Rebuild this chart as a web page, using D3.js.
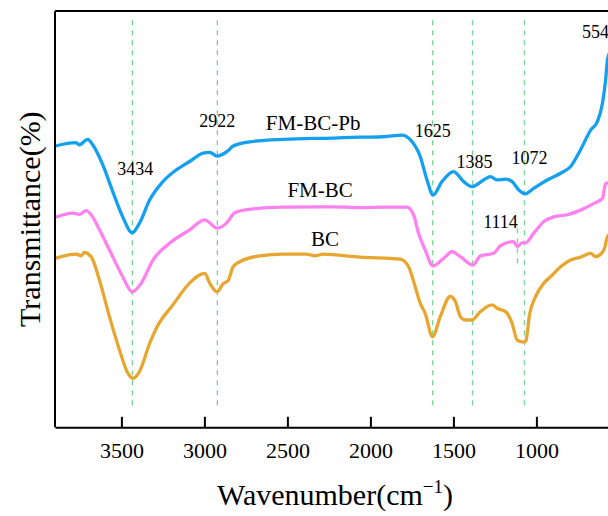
<!DOCTYPE html>
<html>
<head>
<meta charset="utf-8">
<script src="https://cdn.jsdelivr.net/npm/d3@7"></script>
<style>
  body { margin: 0; background: #fff; }
  svg { display: block; }
  svg text { font-family: "Liberation Serif", "Times New Roman", serif; }
</style>
</head>
<body>
<div class="ftir-container"></div>
<script>
// FTIR spectra, wavenumber in cm-1, transmittance in arbitrary %
const wnPb = [3898, 3773, 3753, 3703, 3673, 3612, 3552, 3492, 3435, 3391, 3330, 3250, 3169, 3089, 3008, 2968, 2924, 2857, 2827, 2726, 2525, 2223, 2062, 1921, 1810, 1760, 1700, 1659, 1623, 1569, 1499, 1438, 1388, 1318, 1277, 1237, 1186, 1146, 1106, 1066, 1016, 935, 854, 794, 734, 673, 633, 602, 583, 572, 564, 540];
const tPb = [68.0, 68.8, 68.3, 69.6, 68.3, 63.5, 57.1, 51.1, 47.3, 49.6, 55.1, 59.5, 62.3, 64.3, 66.3, 66.5, 65.6, 66.9, 68.0, 69.0, 69.6, 69.9, 70.1, 70.2, 70.6, 69.5, 65.5, 59.9, 56.3, 59.5, 61.9, 59.5, 58.3, 59.9, 60.7, 59.9, 60.1, 59.5, 57.5, 56.6, 57.9, 59.9, 61.5, 63.1, 67.1, 71.8, 73.8, 78.2, 83.8, 88.5, 89.7, 92.0];

const wnFM = [3898, 3793, 3753, 3713, 3682, 3632, 3572, 3492, 3435, 3380, 3310, 3210, 3089, 2998, 2924, 2867, 2817, 2726, 2525, 2223, 2062, 1921, 1780, 1740, 1710, 1670, 1623, 1559, 1508, 1458, 1382, 1337, 1257, 1217, 1136, 1116, 1086, 1066, 1016, 955, 895, 814, 734, 653, 602, 583, 564, 540];
const tFM = [51.0, 52.0, 51.7, 52.6, 51.6, 48.0, 43.2, 36.8, 33.2, 35.3, 40.8, 44.8, 48.0, 50.4, 48.4, 49.6, 52.1, 52.9, 53.4, 53.5, 53.3, 53.4, 53.4, 51.6, 47.2, 43.2, 39.4, 41.2, 42.8, 41.6, 39.6, 41.8, 42.4, 44.2, 45.2, 44.0, 44.9, 44.9, 47.2, 50.0, 51.1, 51.6, 52.7, 54.3, 55.5, 59.1, 59.2, 61.0];

const wnBC = [3898, 3773, 3743, 3723, 3682, 3632, 3572, 3511, 3461, 3431, 3391, 3330, 3290, 3190, 3089, 2998, 2968, 2924, 2888, 2857, 2827, 2787, 2666, 2525, 2384, 2334, 2284, 2062, 1821, 1770, 1730, 1700, 1670, 1626, 1579, 1519, 1488, 1458, 1428, 1388, 1337, 1267, 1237, 1186, 1146, 1116, 1086, 1066, 1040, 1005, 955, 915, 854, 794, 734, 673, 643, 593, 572, 564, 540];
const tBC = [41.2, 42.2, 41.8, 42.6, 41.6, 36.0, 27.3, 19.3, 13.8, 12.6, 14.2, 20.9, 24.5, 30.1, 35.3, 37.6, 35.3, 33.2, 35.1, 35.9, 39.2, 40.4, 41.8, 42.2, 42.2, 41.8, 42.2, 41.5, 41.0, 39.2, 34.4, 30.5, 28.1, 22.5, 27.3, 32.1, 30.9, 27.3, 26.5, 26.5, 28.5, 30.1, 29.3, 28.5, 25.7, 21.7, 21.3, 21.3, 28.1, 32.1, 35.3, 36.8, 39.2, 40.8, 41.5, 42.4, 41.6, 43.2, 46.4, 46.8, 48.5];

const seriesNames = ["FM-BC-Pb", "FM-BC", "BC"];
const xTicks = [3500, 3000, 2500, 2000, 1500, 1000];

// marked peaks (full-height guide lines) and the short 1114 guide
const peakWn = [3434, 2922, 1625, 1385, 1072, 554];
const shortPeakWn = [1114];

// 畫布尺寸
const svg_width = 608;
const svg_height = 516;
const chart_margin = { top: 11, right: -28, bottom: 88.7, left: 55 };
const chart_width = svg_width - (chart_margin.left + chart_margin.right);
const chart_height = svg_height - (chart_margin.top + chart_margin.bottom);

const svg = d3.select(".ftir-container").append("svg")
    .attr("width", svg_width)
    .attr("height", svg_height);

const this_svg = svg.append("g")
    .attr("transform", `translate(${chart_margin.left},${chart_margin.top})`);

// scale
const xScale = d3.scaleLinear([3900, 400], [0, chart_width]);
const yScale = d3.scaleLinear([0.9, 100.2], [chart_height, 0]);

const colorTable = {
    "FM-BC-Pb": "#149ff0",
    "FM-BC": "#ff80ef",
    "BC": "#e6a62f"
};

// guide lines
const guideColor = "#74d690";
this_svg.append("g").attr("class", "guides")
    .selectAll("line").data(peakWn).join("line")
    .attr("x1", d => xScale(d)).attr("x2", d => xScale(d))
    .attr("y1", yScale(98)).attr("y2", yScale(5))
    .style("stroke", guideColor)
    .style("stroke-width", 1.3)
    .style("stroke-dasharray", "5,5");

this_svg.append("g").attr("class", "guides-short")
    .selectAll("line").data(shortPeakWn).join("line")
    .attr("x1", d => xScale(d)).attr("x2", d => xScale(d))
    .attr("y1", yScale(48.4)).attr("y2", yScale(38.9))
    .style("stroke", guideColor)
    .style("stroke-width", 1.3)
    .style("stroke-dasharray", "5,5");

// spectra
const spectra = [
    { name: "FM-BC-Pb", wn: wnPb, t: tPb },
    { name: "FM-BC", wn: wnFM, t: tFM },
    { name: "BC", wn: wnBC, t: tBC }
];

const line = d3.line()
    .x(d => xScale(d[0]))
    .y(d => yScale(d[1]))
    .curve(d3.curveMonotoneX);

this_svg.append("g").attr("class", "spectra")
    .selectAll("path").data(spectra).join("path")
    .attr("d", s => line(s.wn.map((w, i) => [w, s.t[i]])))
    .style("fill", "none")
    .style("stroke", s => colorTable[s.name])
    .style("stroke-width", 3.3)
    .style("stroke-linejoin", "round");

// peak labels: [text, wavenumber, label level, x offset]
const peakLabels = [
    ["3434", 3434, 61.1, 3],
    ["2922", 2922, 72.6, 0],
    ["1625", 1625, 70.2, 0],
    ["1385", 1385, 62.8, 2],
    ["1072", 1072, 63.7, 5],
    ["1114", 1114, 48.4, -17],
    ["554", 554, 93.8, -15]
];
this_svg.append("g").attr("class", "peak-labels")
    .selectAll("text").data(peakLabels).join("text")
    .attr("x", d => xScale(d[1]) + d[3])
    .attr("y", d => yScale(d[2]))
    .attr("text-anchor", "middle")
    .style("font-size", "18px")
    .text(d => d[0]);

// series labels
const seriesLabelPos = [[2345, 71.8], [2303, 55.8], [2273, 44.2]];
this_svg.append("g").attr("class", "series-labels")
    .selectAll("text").data(seriesNames).join("text")
    .attr("x", (d, i) => xScale(seriesLabelPos[i][0]))
    .attr("y", (d, i) => yScale(seriesLabelPos[i][1]))
    .attr("text-anchor", "middle")
    .style("font-size", "21px")
    .text(d => d);

// handle axis
const xAxis = d3.axisBottom(xScale)
    .tickValues(xTicks)
    .tickFormat(d3.format("d"))
    .tickSizeInner(-10.5)
    .tickSizeOuter(0);

const xAxisDraw = this_svg.append("g")
    .attr("class", "x axis")
    .attr("transform", `translate(0,${chart_height})`)
    .call(xAxis)
    .attr("font-family", null)
    .attr("font-size", null);
xAxisDraw.select(".domain").style("stroke", "#000").style("stroke-width", 2);
xAxisDraw.selectAll(".tick line").style("stroke", "#000").style("stroke-width", 2);
xAxisDraw.selectAll(".tick text")
    .attr("y", 30.4).attr("dy", 0)
    .style("font-size", "22px")
    .style("fill", "#000");

// frame: left and top
this_svg.append("line")
    .attr("x1", 0).attr("x2", 0).attr("y1", 0).attr("y2", chart_height)
    .style("stroke", "#000").style("stroke-width", 2);
this_svg.append("line")
    .attr("x1", 0).attr("x2", chart_width).attr("y1", 0).attr("y2", 0)
    .style("stroke", "#000").style("stroke-width", 2);

// axis titles
const xTitle = svg.append("text")
    .attr("x", 335)
    .attr("y", 505)
    .attr("text-anchor", "middle")
    .style("font-size", "30px");
xTitle.append("tspan").text("Wavenumber(cm");
xTitle.append("tspan").text("\u22121").style("font-size", "19px").attr("dy", -12);
xTitle.append("tspan").text(")").attr("dy", 12);

svg.append("text")
    .attr("transform", `translate(40,${chart_margin.top + chart_height / 2}) rotate(-90)`)
    .attr("text-anchor", "middle")
    .style("font-size", "30px")
    .text("Transmittance(%)");
</script>
</body>
</html>
